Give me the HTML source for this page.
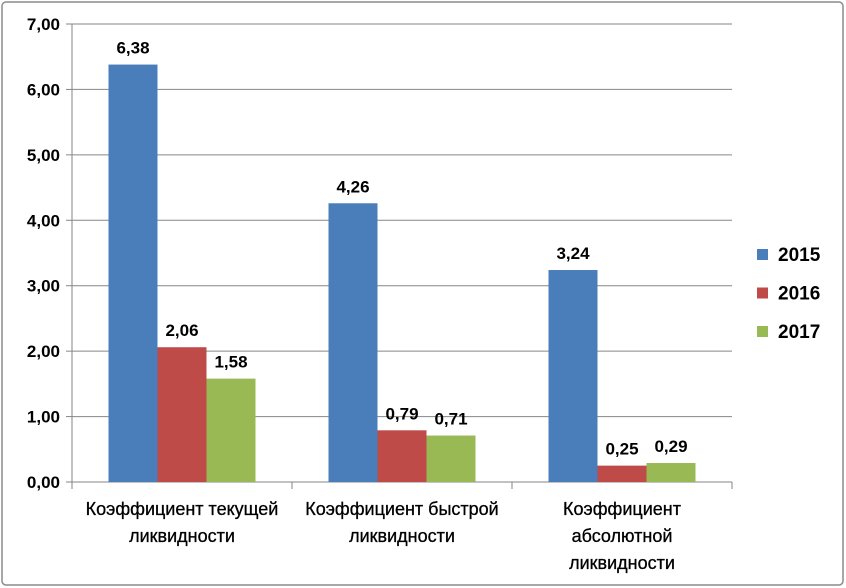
<!DOCTYPE html>
<html><head><meta charset="utf-8"><style>
body{margin:0;background:#fff}
svg{display:block;font-family:"Liberation Sans","DejaVu Sans",sans-serif}
</style></head><body>
<svg id="c" width="846" height="588">
<rect x="2" y="2" width="841" height="583" rx="4" fill="#fff" stroke="#8c8c8c" stroke-width="1.5"/>
<g id="plot"></g>
</svg>
<script>
const categories=[["Коэффициент текущей","ликвидности"],["Коэффициент быстрой","ликвидности"],["Коэффициент","абсолютной","ликвидности"]];
const seriesNames=["2015","2016","2017"];
const s2015=[6.38,4.26,3.24];
const s2016=[2.06,0.79,0.25];
const s2017=[1.58,0.71,0.29];
const valueLabels=[["6,38","4,26","3,24"],["2,06","0,79","0,25"],["1,58","0,71","0,29"]];
const yTicks=[0,1,2,3,4,5,6,7];
const yTickLabels=["0,00","1,00","2,00","3,00","4,00","5,00","6,00","7,00"];
const colors=["#4a7ebb","#be4b48","#98b954"];
const series=[s2015,s2016,s2017];
const NS="http://www.w3.org/2000/svg";
const g=document.getElementById('plot');
const x0=72,x1=732,yb=482,yt=24,ymax=7;
const y=v=>yb-(v/ymax)*(yb-yt);
const cw=(x1-x0)/categories.length;
const bw=49;
function mk(t,a){const e=document.createElementNS(NS,t);for(const k in a)e.setAttribute(k,a[k]);g.appendChild(e);return e;}
yTicks.forEach((t,i)=>{
  const l=mk('line',{x1:x0,x2:x1,y1:y(t),y2:y(t),stroke:'#868686','stroke-width':1});
  
  
  const tk=mk('line',{x1:x0-6,x2:x0,y1:y(t),y2:y(t),stroke:'#868686'});
  
  
  const tx=mk('text',{x:x0-12,y:y(t)+6,'text-anchor':'end','font-size':17,'font-weight':'bold',fill:'#000'});
  tx.textContent=yTickLabels[i];
  
  
});
const ax=mk('line',{x1:x0,x2:x0,y1:yt,y2:yb,stroke:'#868686'});


for(let c=0;c<=categories.length;c++){
  const tk=mk('line',{x1:x0+c*cw,x2:x0+c*cw,y1:yb,y2:yb+7,stroke:'#868686'});
  
  
}
categories.forEach((cat,c)=>{
  const start=x0+c*cw+(cw-3*bw)/2;
  series.forEach((s,k)=>{
    const r=mk('rect',{x:start+k*bw,y:y(s[c]),width:bw,height:yb-y(s[c]),fill:colors[k]});
    
    
    const t=mk('text',{x:start+k*bw+bw/2,y:y(s[c])-11,'text-anchor':'middle','font-size':17,'font-weight':'bold',fill:'#000'});
    t.textContent=valueLabels[k][c];
    
    
  });
  cat.forEach((line,j)=>{
    const t=mk('text',{x:x0+c*cw+cw/2,y:515+j*27,'text-anchor':'middle','font-size':18,fill:'#000',stroke:'#000','stroke-width':0.3});
    t.textContent=line;
    
    
  });
});
seriesNames.forEach((n,k)=>{
  const ly=254+k*38.5;
  const r=mk('rect',{x:757,y:ly-5,width:11,height:11,fill:colors[k]});
  
  
  const t=mk('text',{x:778,y:ly+7,'font-size':19,'font-weight':'bold',fill:'#000'});
  t.textContent=n;
  
  
});
</script>
</body></html>
